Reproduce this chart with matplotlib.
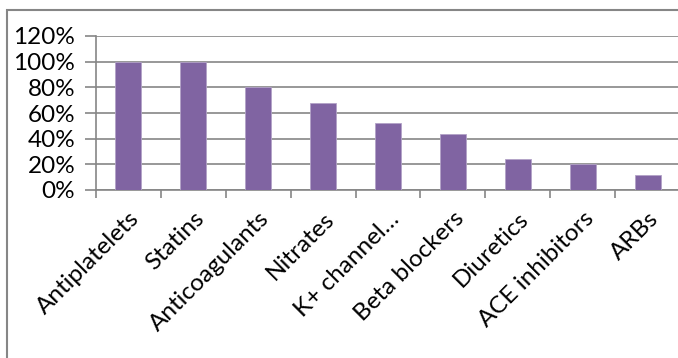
import matplotlib
matplotlib.use('Agg')
import matplotlib.pyplot as plt
import matplotlib.patches as mpatches
import numpy as np
from matplotlib.ticker import FixedLocator

plt.rcParams['font.family'] = ['Lato', 'DejaVu Sans']

# ── Data ──────────────────────────────────────────────────────────────────────
categories = ['Antiplatelets', 'Statins', 'Anticoagulants', 'Nitrates',
              'K+ channel…', 'Beta blockers', 'Diuretics', 'ACE inhibitors', 'ARBs']
values = [100, 100, 80, 68, 52, 44, 24, 20, 12]
y_ticks = [0, 20, 40, 60, 80, 100, 120]

BAR = '#8064A2'
GRID = '#868686'
FS = 17.5

fig = plt.figure(figsize=(6.78, 3.58), dpi=100)
ax = fig.add_axes([96 / 678, 168 / 358, 584 / 678, 154 / 358])

x = np.arange(len(categories))
ax.bar(x, values, width=0.4, color=BAR, edgecolor='#B3A2C7', linewidth=0.6, zorder=3)

ax.set_xlim(-0.5, len(categories) - 0.5)
ax.set_ylim(0, 120)
ax.set_yticks(y_ticks)
ax.set_yticklabels([f'{v}%' for v in y_ticks], fontsize=FS)
ax.yaxis.grid(True, color=GRID, linewidth=1.2, zorder=0)

ax.set_xticks(x)
ax.set_xticklabels(categories, rotation=45, ha='right', rotation_mode='anchor',
                   fontsize=FS)
ax.xaxis.set_minor_locator(FixedLocator(np.arange(-0.5, len(categories), 1)))
ax.tick_params(axis='x', which='major', length=0, pad=13)
ax.tick_params(axis='x', which='minor', length=6, width=1.2, color=GRID, direction='out')
ax.tick_params(axis='y', length=8, width=1.2, color=GRID, pad=7)

for s in ['top', 'right']:
    ax.spines[s].set_visible(False)
for s in ['left', 'bottom']:
    ax.spines[s].set_color(GRID)
    ax.spines[s].set_linewidth(1.2)

# chart border (right and bottom edges fall outside the image)
fig.patches.append(mpatches.Rectangle((6.5 / 678, -0.1), 1.2, 1.1 - 10 / 358,
                                      transform=fig.transFigure, fill=False,
                                      edgecolor=GRID, linewidth=1.5))

fig.savefig('out.png', dpi=100)
